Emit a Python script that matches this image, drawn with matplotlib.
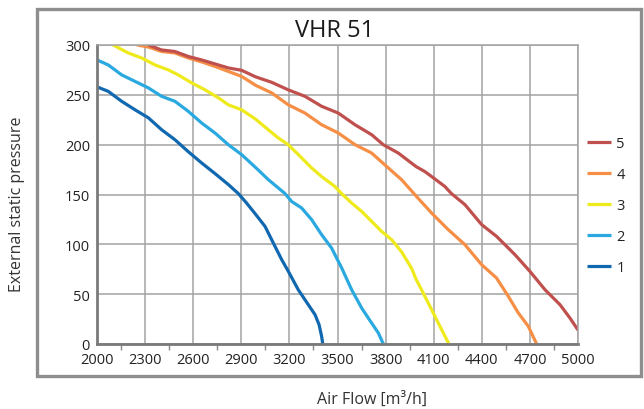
import matplotlib
matplotlib.use("Agg")
from matplotlib import pyplot as plt
from matplotlib.patches import Rectangle
import numpy as np

plt.rcParams['font.family'] = ['Open Sans', 'DejaVu Sans']

# curve data: air flow [m3/h], pressure [Pa]
flow_1 = [2000, 2070, 2154, 2237, 2320, 2403, 2486, 2569, 2653, 2736, 2819, 2881, 2930, 2985,
          3048, 3110, 3152, 3193, 3255, 3318, 3360, 3385, 3401, 3408]
pres_1 = [258, 253.5, 243.5, 235, 227, 215, 205, 193, 181.6, 171, 160, 151, 142, 131,
          118, 98, 84.6, 73, 54.5, 39.4, 29.4, 19.4, 7.7, 0]

flow_2 = [2000, 2070, 2154, 2237, 2320, 2403, 2486, 2569, 2653, 2736, 2819, 2902, 2990, 3068,
          3172, 3214, 3276, 3339, 3401, 3463, 3526, 3588, 3651, 3713, 3755, 3786]
pres_2 = [285, 280, 270, 263.5, 257, 248.5, 243.5, 233.5, 221.7, 211.7, 200, 190, 177, 165,
          151, 143, 136.5, 124.7, 109.7, 96.3, 76.3, 54.5, 36, 21, 11, 0]

flow_3 = [2100, 2195, 2278, 2362, 2445, 2507, 2590, 2674, 2757, 2819, 2902, 2990, 3068, 3131,
          3193, 3256, 3339, 3401, 3484, 3525, 3588, 3651, 3713, 3775, 3838, 3900, 3963, 3990,
          4035, 4087, 4139, 4195]
pres_3 = [300, 292, 287, 280, 275, 270, 262, 255, 247, 240, 235, 225.5, 215, 206.7,
          200, 190, 176.6, 168, 158, 151, 141.5, 133, 123, 113, 104.6, 92.4, 75.7, 65,
          51, 34.4, 17.7, 0]

flow_4 = [2250, 2320, 2403, 2486, 2569, 2653, 2736, 2819, 2902, 2990, 3089, 3193, 3297, 3401,
          3505, 3609, 3713, 3817, 3900, 3990, 4087, 4191, 4295, 4399, 4492, 4565, 4628, 4690,
          4742]
pres_4 = [300, 298, 293.5, 292, 287, 283, 278.5, 273.5, 268.5, 259.5, 252, 240, 231.7, 220,
          211.7, 200, 191.6, 176.6, 164.8, 148.5, 131.4, 114.7, 99.6, 79.6, 66.2, 47.9, 31.1, 17.8,
          0]

flow_5 = [2320, 2403, 2486, 2569, 2653, 2736, 2819, 2902, 2990, 3089, 3193, 3297, 3401, 3505,
          3609, 3713, 3785, 3879, 3990, 4045, 4108, 4170, 4210, 4295, 4399, 4492, 4607, 4700,
          4794, 4888, 4950, 5000]
pres_5 = [300, 295, 293.5, 288.5, 285, 281, 277, 274.6, 268, 262.6, 255, 248.5, 238.5, 231.7,
          220, 210, 200, 191.6, 178, 173, 165.5, 158, 151, 139.8, 119.8, 108, 89.6, 72.9,
          54.5, 39.4, 26, 14]

labels = ['1', '2', '3', '4', '5']
colors = ['#1068b0', '#2aa9e0', '#eeea1c', '#f68f45', '#c0504d']
x_ticks = [2000, 2300, 2600, 2900, 3200, 3500, 3800, 4100, 4400, 4700, 5000]
y_ticks = [0, 50, 100, 150, 200, 250, 300]

fig = plt.figure(figsize=(6.44, 4.10), dpi=100)
ax = fig.add_axes([97 / 644, 1 - 345 / 410, 481 / 644, 299 / 410])

# outer grey frame
fig.patches.append(Rectangle((37 / 644, 1 - 377 / 410), 604 / 644, 367 / 410,
                             transform=fig.transFigure, fill=False,
                             edgecolor='#8e8e8e', linewidth=2.4))

series = [(flow_1, pres_1), (flow_2, pres_2), (flow_3, pres_3), (flow_4, pres_4), (flow_5, pres_5)]
handles = []
for (fx, py), lab, col in zip(series, labels, colors):
    h, = ax.plot(fx, py, color=col, lw=2.3, label=lab, solid_capstyle='butt')
    handles.append(h)

ax.set_xlim(2000, 5000)
ax.set_ylim(0, 300)
ax.set_xticks(x_ticks)
ax.set_xticks(np.array(x_ticks[:-1]) + 150, minor=True)
ax.set_yticks(y_ticks)
ax.grid(True, which='major', color='#a3a3a3', lw=1.1)
ax.tick_params(axis='both', which='major', length=0, labelsize=10.5, colors='#222222')
ax.tick_params(axis='x', which='major', pad=6)
ax.tick_params(axis='y', which='major', pad=5)
ax.tick_params(axis='x', which='minor', length=4, width=1, color='#888888')
for side in ['top', 'right']:
    ax.spines[side].set_color('#a3a3a3')
    ax.spines[side].set_linewidth(1.1)
for side in ['left', 'bottom']:
    ax.spines[side].set_color('#7a7a7a')
    ax.spines[side].set_linewidth(2.0)

fig.text(335 / 644, 1 - 31 / 410, 'VHR 51', ha='center', va='center', fontsize=17, color='#1a1a1a')
fig.text(17 / 644, 1 - 204 / 410, 'External static pressure', ha='center', va='center',
         rotation=90, fontsize=11.5, color='#333333')
fig.text(372 / 644, 1 - 400 / 410, 'Air Flow [m\u00b3/h]', ha='center', va='center',
         fontsize=11.5, color='#333333')

leg = ax.legend(handles[::-1], labels[::-1], loc='upper left',
                bbox_to_anchor=(580 / 644, 1 - 130 / 410), bbox_transform=fig.transFigure,
                frameon=False, fontsize=10.5, handlelength=1.6, handletextpad=0.4,
                labelspacing=1.1, borderpad=0)
for t in leg.get_texts():
    t.set_color('#222222')

fig.savefig('out.png', dpi=100)
